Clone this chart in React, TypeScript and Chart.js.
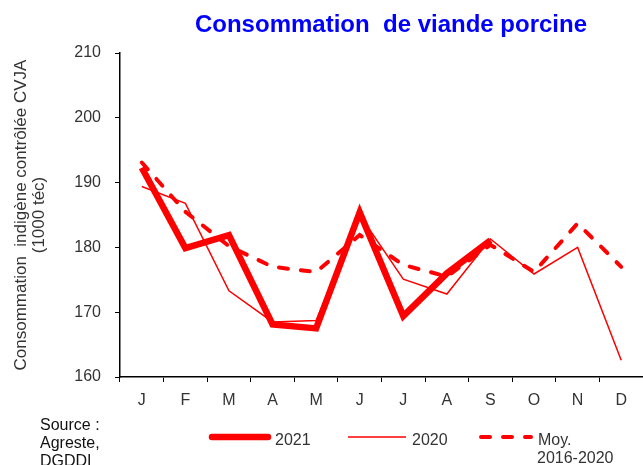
import React, { useEffect, useRef } from "react";
import { Chart, registerables } from "chart.js";

Chart.register(...registerables);

const months = ["J", "F", "M", "A", "M", "J", "J", "A", "S", "O", "N", "D"];
const values2021 = [192.3, 179.9, 181.9, 168.1, 167.5, 185.4, 169.4, 176.0, 181.1, null, null, null];
const values2020 = [189.4, 186.8, 173.3, 168.5, 168.7, 185.0, 175.1, 172.8, 181.3, 175.9, 180.0, 162.6];
const valuesMoy = [193.1, 185.5, 180.2, 177.0, 176.2, 181.9, 177.3, 175.5, 180.4, 176.2, 183.7, 177.0];

const FONT = "'Liberation Sans', Arial, sans-serif";
const RED = "#ff0000";
const TXT = "#333333";

const decorPlugin = {
  id: "decor",
  afterDraw(chart: any) {
    const ctx = chart.ctx as CanvasRenderingContext2D;
    const area = chart.chartArea;
    ctx.save();
    // Title
    ctx.fillStyle = "#0000ff";
    ctx.font = `bold 24px ${FONT}`;
    ctx.textAlign = "center";
    ctx.textBaseline = "alphabetic";
    ctx.fillText("Consommation  de viande porcine", 391, 32);

    // Y axis title
    ctx.save();
    ctx.translate(0, (area.top + area.bottom) / 2);
    ctx.rotate(-Math.PI / 2);
    ctx.fillStyle = TXT;
    ctx.font = `17px ${FONT}`;
    ctx.textAlign = "center";
    ctx.textBaseline = "middle";
    ctx.fillText("Consommation  indigène contrôlée CVJA", 0, 21);
    ctx.fillText("(1000 téc)", 0, 39);
    ctx.restore();

    // Source
    ctx.fillStyle = "#111111";
    ctx.font = `16px ${FONT}`;
    ctx.textAlign = "left";
    ctx.textBaseline = "alphabetic";
    ctx.fillText("Source :", 40, 430);
    ctx.fillText("Agreste,", 40, 448);
    ctx.fillText("DGDDI", 40, 466);

    // Legend
    const ly = 437;
    ctx.strokeStyle = RED;
    ctx.lineCap = "round";
    ctx.lineWidth = 6.5;
    ctx.beginPath();
    ctx.moveTo(212, ly);
    ctx.lineTo(268, ly);
    ctx.stroke();

    ctx.lineCap = "butt";
    ctx.lineWidth = 1.5;
    ctx.beginPath();
    ctx.moveTo(348, ly);
    ctx.lineTo(406, ly);
    ctx.stroke();

    ctx.lineCap = "round";
    ctx.lineWidth = 4;
    ctx.setLineDash([9, 13]);
    ctx.beginPath();
    ctx.moveTo(481, ly);
    ctx.lineTo(531, ly);
    ctx.stroke();
    ctx.setLineDash([]);

    ctx.fillStyle = TXT;
    ctx.font = `16px ${FONT}`;
    ctx.fillText("2021", 275, 445);
    ctx.fillText("2020", 412, 445);
    ctx.fillText("Moy.", 538, 445);
    ctx.fillText("2016-2020", 537, 463);
    ctx.restore();
  },
};

export default function App() {
  const ref = useRef<HTMLCanvasElement | null>(null);

  useEffect(() => {
    if (!ref.current) return;
    const chart = new Chart(ref.current, {
      type: "line",
      data: {
        labels: months,
        datasets: [
          {
            label: "2021",
            data: values2021,
            borderColor: RED,
            borderWidth: 6.5,
            pointRadius: 0,
            tension: 0,
            spanGaps: false,
          },
          {
            label: "2020",
            data: values2020,
            borderColor: RED,
            borderWidth: 1.5,
            pointRadius: 0,
            tension: 0,
          },
          {
            label: "Moy. 2016-2020",
            data: valuesMoy,
            borderColor: RED,
            borderWidth: 4,
            borderDash: [9, 13],
            borderCapStyle: "round",
            pointRadius: 0,
            tension: 0,
          },
        ],
      },
      options: {
        responsive: false,
        animation: false,
        layout: { padding: { top: 53, left: 0, right: 0, bottom: 48 } },
        plugins: {
          legend: { display: false },
          title: { display: false },
          tooltip: { enabled: false },
        },
        scales: {
          x: {
            offset: true,
            grid: {
              display: true,
              drawOnChartArea: false,
              drawTicks: true,
              tickLength: 5,
              color: "#000",
              offset: true,
            },
            border: { display: true, color: "#000", width: 1.5 },
            ticks: {
              color: TXT,
              font: { family: FONT, size: 16 },
              padding: 9,
              maxRotation: 0,
              autoSkip: false,
            },
            afterFit: (s: any) => {
              s.height = 40;
            },
          },
          y: {
            min: 160,
            max: 210,
            ticks: {
              stepSize: 10,
              color: TXT,
              font: { family: FONT, size: 16 },
              padding: 14,
            },
            grid: {
              display: true,
              drawOnChartArea: false,
              drawTicks: true,
              tickLength: 5,
              color: "#000",
            },
            border: { display: true, color: "#000", width: 1.5 },
            afterFit: (s: any) => {
              s.width = 120;
            },
          },
        },
      },
      plugins: [decorPlugin],
    });
    return () => chart.destroy();
  }, []);

  return (
    <div style={{ position: "fixed", left: 0, top: 0, width: 643, height: 465, background: "#fff" }}>
      <canvas ref={ref} width={643} height={465} style={{ display: "block" }} />
    </div>
  );
}
